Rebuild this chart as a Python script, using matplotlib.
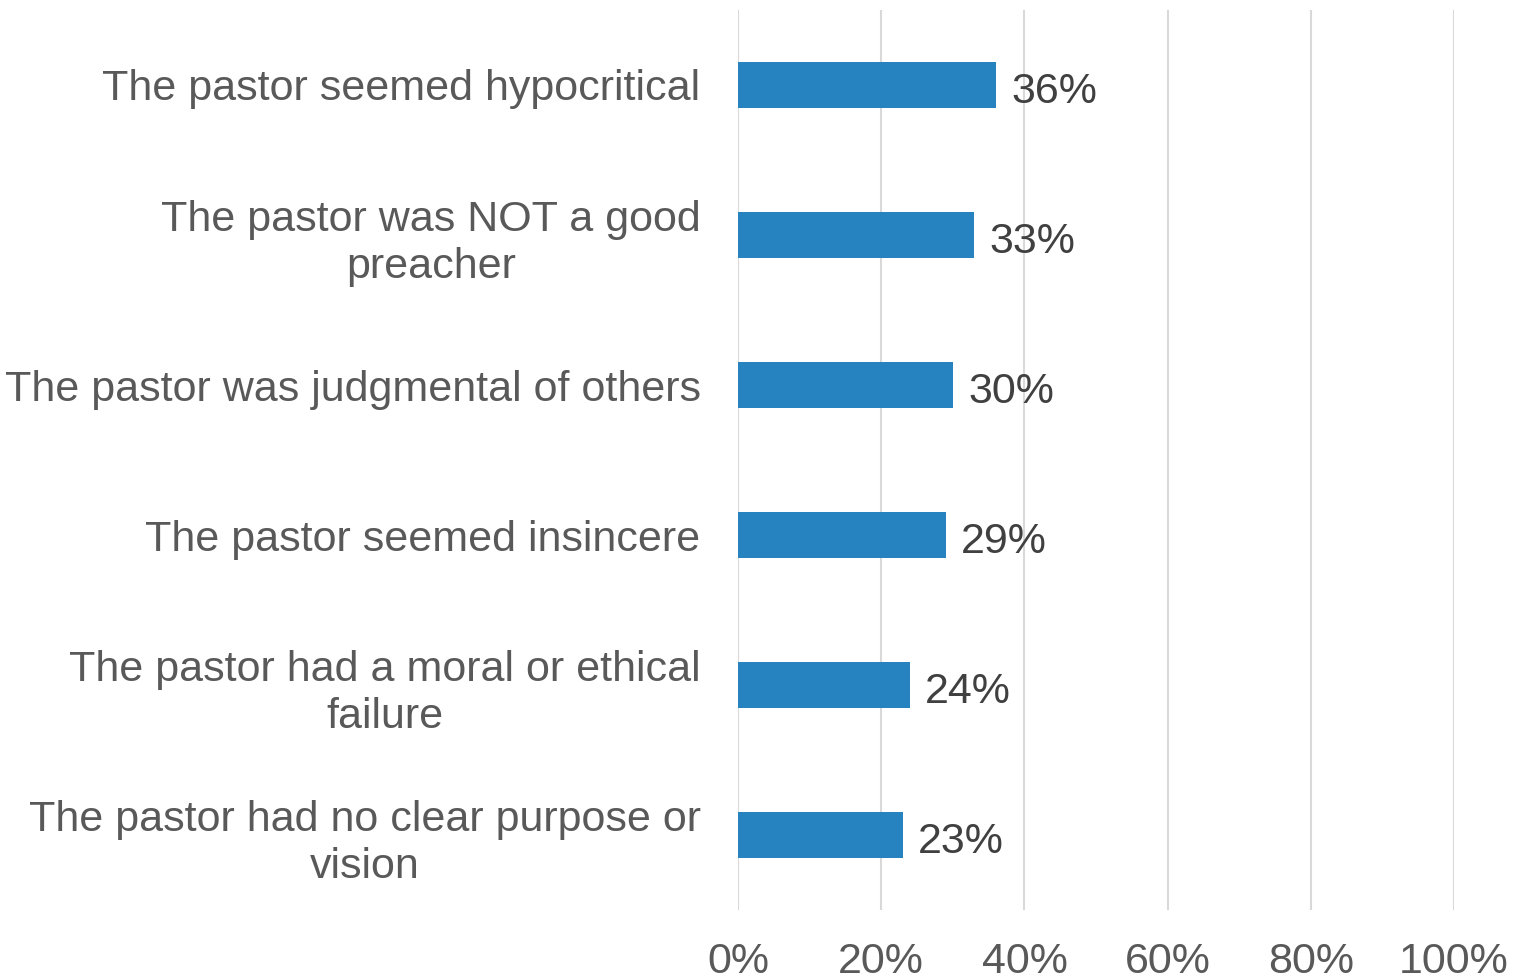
import numpy as np
import matplotlib.pyplot as plt

plt.rcParams['font.family'] = ['Liberation Sans', 'DejaVu Sans']

# Datos
reasons = [
    'The pastor seemed hypocritical',
    'The pastor was NOT a good\npreacher',
    'The pastor was judgmental of others',
    'The pastor seemed insincere',
    'The pastor had a moral or ethical\nfailure',
    'The pastor had no clear purpose or\nvision',
]
shares = [0.36, 0.33, 0.30, 0.29, 0.24, 0.23]
ticks = [0, 0.2, 0.4, 0.6, 0.8, 1.0]
tick_labels = ['0%', '20%', '40%', '60%', '80%', '100%']

fig = plt.figure(figsize=(15.14, 9.8), dpi=100)
ax = fig.add_axes([0.4875, 0.0714, 0.4729, 0.9184])

y = np.arange(len(reasons))
ax.barh(y, shares, height=0.31, color='#2683C0', zorder=3)
ax.set_ylim(len(reasons) - 0.5, -0.5)
ax.set_xlim(0, 1)

ax.set_yticks(y)
ax.set_yticklabels(reasons, fontsize=31, color='#595959', multialignment='center',
                   linespacing=1.25)
ax.tick_params(axis='y', length=0, pad=27)

ax.set_xticks(ticks)
ax.set_xticklabels(tick_labels, fontsize=31, color='#595959')
ax.tick_params(axis='x', length=0, pad=23)

ax.grid(axis='x', color='#D9D9D9', linewidth=1.5, zorder=0)
for s in ax.spines.values():
    s.set_visible(False)

for yi, v in zip(y, shares):
    ax.annotate(f'{round(v * 100)}%', (v, yi), xytext=(11, -2), textcoords='offset points',
                va='center_baseline', ha='left', fontsize=31, color='#404040')

fig.savefig('out.png', dpi=100)
